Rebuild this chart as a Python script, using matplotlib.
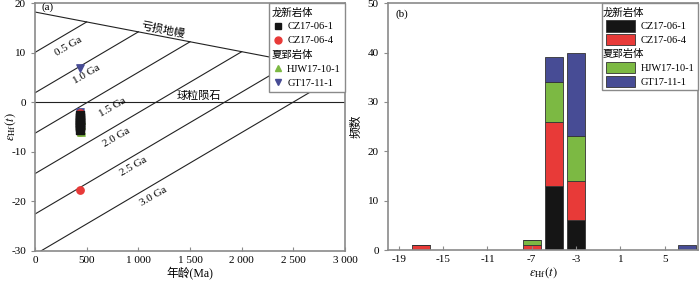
import matplotlib
matplotlib.use("Agg")
import matplotlib.pyplot as plt
import numpy as np
from matplotlib.lines import Line2D
from matplotlib.patches import Patch

plt.rcParams['font.family'] = ['Liberation Serif', 'Noto Sans CJK SC']
plt.rcParams['mathtext.fontset'] = 'stix'
plt.rcParams['axes.unicode_minus'] = False

# (a) zircon Hf data, age (Ma) vs eHf(t)
cz1_age = [440, 440, 440, 440, 440, 440, 440, 440, 440, 440]
cz1_eps = [-2.5, -3.0, -3.5, -4.0, -4.5, -5.0, -5.5, -3.2, -4.2, -4.8]
cz4_age = [440, 440, 440, 440, 440]
cz4_eps = [-2.2, -2.6, -6.0, -5.8, -17.8]
hjw_age = [445, 445, 445, 445]
hjw_eps = [-3.5, -4.5, -5.5, -6.0]
gt_age = [440, 440, 440, 440, 440]
gt_eps = [7.0, -2.0, -2.3, -2.8, -3.0]

# reference lines
dm_eps0 = 18.2       # depleted mantle at 0 Ma
dm_slope = -0.004    # per Ma
crust_slope = 0.0123 # per Ma
model_ages = [500, 1000, 1500, 2000, 2500, 3000]
model_labels = ['0.5 Ga', '1.0 Ga', '1.5 Ga', '2.0 Ga', '2.5 Ga', '3.0 Ga']
label_pos = [(322, 11.3), (494, 5.7), (752, -1.1), (790, -7.1), (952, -13.0), (1145, -19.1)]

# (b) histogram of eHf(t)
bins = [-17, -7, -5, -3, 7]
n_cz1 = [0, 0, 13, 6, 0]
n_cz4 = [1, 1, 13, 8, 0]
n_hjw = [0, 1, 8, 9, 0]
n_gt = [0, 0, 5, 17, 1]

c_black = '#151515'
c_red = '#e83a38'
c_green = '#7cb943'
c_blue = '#474c95'
spine_c = '#8a8a8a'

fig = plt.figure(figsize=(7, 2.82), dpi=100)
ax1 = fig.add_axes([0.05, 0.11, 0.443, 0.879])
ax2 = fig.add_axes([0.554, 0.113, 0.443, 0.876])

# ---- panel (a)
xs = np.array([0, 3000])
ax1.plot(xs, dm_eps0 + dm_slope * xs, color='#222222', lw=0.8)
ax1.axhline(0, color='#222222', lw=0.8)
for T in model_ages:
    d = dm_eps0 + dm_slope * T
    xx = np.array([0, T])
    ax1.plot(xx, d - crust_slope * (T - xx), color='#222222', lw=0.8)
for lab, (lx, ly) in zip(model_labels, label_pos):
    ax1.text(lx, ly, lab, fontsize=8, rotation=30, ha='center', va='center')
ax1.text(1240, 14.6, '亏损地幔', fontsize=8, rotation=-11, ha='center', va='center')
ax1.text(1587, 1.2, '球粒陨石', fontsize=8, ha='center', va='center')
ax1.text(60, 19.2, '(a)', fontsize=8, va='center')

ax1.scatter(gt_age, gt_eps, marker='v', s=28, color=c_blue, zorder=3)
ax1.scatter(cz4_age, cz4_eps, marker='o', s=28, color=c_red, zorder=3)
ax1.scatter(hjw_age, hjw_eps, marker='^', s=28, color=c_green, zorder=3)
ax1.scatter(cz1_age, cz1_eps, marker='s', s=26, color=c_black, zorder=4)

ax1.set_xlim(0, 3000)
ax1.set_ylim(-30, 20)
ax1.set_xticks([0, 500, 1000, 1500, 2000, 2500, 3000])
ax1.set_xticklabels(['0', '500', '1 000', '1 500', '2 000', '2 500', '3 000'])
ax1.set_yticks([-30, -20, -10, 0, 10, 20])
ax1.set_xlabel('年龄(Ma)', fontsize=8.5, labelpad=2)
ax1.set_ylabel(r'$\varepsilon_{\rm Hf}(t)$', fontsize=9)
ax1.yaxis.set_label_coords(-0.055, 0.5)
ax1.tick_params(axis='x', direction='in', labelsize=8, length=3, color=spine_c)
ax1.tick_params(axis='y', direction='out', labelsize=8, length=3, color=spine_c)

blank = Line2D([], [], linestyle='none')
h_a = [blank,
       Line2D([], [], marker='s', color=c_black, linestyle='none', markersize=5),
       Line2D([], [], marker='o', color=c_red, linestyle='none', markersize=5),
       blank,
       Line2D([], [], marker='^', color=c_green, linestyle='none', markersize=5),
       Line2D([], [], marker='v', color=c_blue, linestyle='none', markersize=5)]
l_a = ['龙新岩体', 'CZ17-06-1', 'CZ17-06-4', '夏郢岩体', 'HJW17-10-1', 'GT17-11-1']
leg = ax1.legend(h_a, l_a, loc='upper right', fontsize=7.5, fancybox=False,
                 edgecolor=spine_c, framealpha=1, handlelength=0.8,
                 handletextpad=0.5, borderpad=0.4, labelspacing=0.45,
                 borderaxespad=0)
for t in [leg.get_texts()[0], leg.get_texts()[3]]:
    t.set_position((-16, 0))

# ---- panel (b)
w = 1.6
bot = np.zeros(len(bins))
for vals, col in [(n_cz1, c_black), (n_cz4, c_red), (n_hjw, c_green), (n_gt, c_blue)]:
    ax2.bar(bins, vals, width=w, bottom=bot, color=col, edgecolor='#333333', lw=0.6)
    bot += np.array(vals)

ax2.set_xlim(-20, 8)
ax2.set_ylim(0, 50)
ax2.set_xticks([-19, -15, -11, -7, -3, 1, 5])
ax2.set_yticks([0, 10, 20, 30, 40, 50])
ax2.set_xlabel(r'$\varepsilon_{\rm Hf}(t)$', fontsize=9, labelpad=1)
ax2.set_ylabel('频数', fontsize=8.5)
ax2.yaxis.set_label_coords(-0.08, 0.5)
ax2.tick_params(axis='x', direction='in', labelsize=8, length=3, color=spine_c)
ax2.tick_params(axis='y', direction='out', labelsize=8, length=3, color=spine_c)
ax2.text(-19.3, 47.8, '(b)', fontsize=8, va='center')

p = lambda c: Patch(facecolor=c, edgecolor='#333333', lw=0.6)
h_b = [Patch(visible=False), p(c_black), p(c_red), Patch(visible=False), p(c_green), p(c_blue)]
leg2 = ax2.legend(h_b, l_a, loc='upper right', fontsize=7.5, fancybox=False,
                  edgecolor=spine_c, framealpha=1, handlelength=2.8, handleheight=1.3,
                  handletextpad=0.6, borderpad=0.3, labelspacing=0.25,
                  borderaxespad=0)
for t in [leg2.get_texts()[0], leg2.get_texts()[3]]:
    t.set_position((-38, 0))

for ax in (ax1, ax2):
    for s in ax.spines.values():
        s.set_color(spine_c)
        s.set_linewidth(1.2)

fig.savefig('out.png', dpi=100)
